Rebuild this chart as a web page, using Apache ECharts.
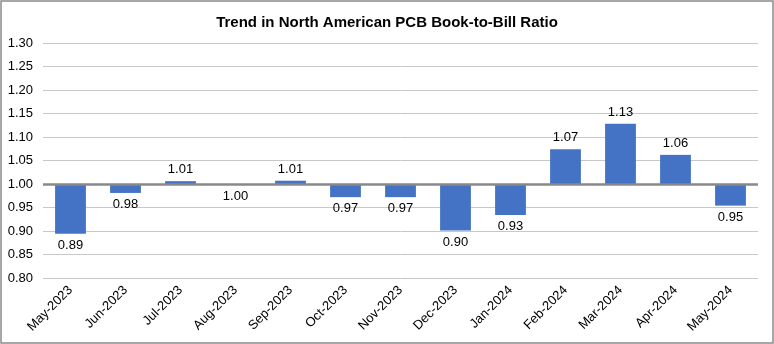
<!DOCTYPE html>
<html>
<head>
<meta charset="utf-8">
<script src="https://cdn.jsdelivr.net/npm/echarts@6/dist/echarts.min.js"></script>
<style>
html,body{margin:0;padding:0;background:#fff;}
#chart{width:774px;height:344px;}
</style>
</head>
<body>
<div id="chart"></div>
<script>
var categories = ['May-2023','Jun-2023','Jul-2023','Aug-2023','Sep-2023','Oct-2023','Nov-2023','Dec-2023','Jan-2024','Feb-2024','Mar-2024','Apr-2024','May-2024'];
var ratios = [0.894, 0.981, 1.006, 0.998, 1.007, 0.972, 0.972, 0.901, 0.934, 1.074, 1.128, 1.062, 0.954];
var baseline = 1.0;
var yMin = 0.80, yMax = 1.30, yStep = 0.05;

var chart = echarts.init(document.getElementById('chart'));
var seriesData = ratios.map(function (v) {
  return {
    value: v - baseline,
    label: { position: v >= baseline ? 'top' : 'bottom' }
  };
});
chart.setOption({
  animation: false,
  title: {
    text: 'Trend in North American PCB Book-to-Bill Ratio',
    left: 'center', top: 10,
    textStyle: { fontFamily: 'Liberation Sans', fontSize: 15, fontWeight: 'bold', color: '#000' }
  },
  graphic: [{
    type: 'rect', silent: true, z: 100,
    shape: { x: 1, y: 1, width: 772, height: 342 },
    style: { fill: null, stroke: '#8a8a8a', lineWidth: 1.5 }
  }],
  grid: { left: 43, right: 16, top: 43, bottom: 66 },
  xAxis: {
    type: 'category',
    data: categories,
    position: 'bottom',
    axisLine: { show: false, onZero: false },
    axisTick: { show: false },
    axisLabel: {
      rotate: 45, interval: 0, margin: 10,
      fontFamily: 'Liberation Sans', fontSize: 13, color: '#000'
    }
  },
  yAxis: {
    type: 'value',
    min: yMin - baseline, max: yMax - baseline, interval: yStep,
    axisLine: { show: false },
    axisTick: { show: false },
    splitLine: { lineStyle: { color: '#c8c8c8', width: 1 } },
    axisLabel: {
      margin: 10,
      fontFamily: 'Liberation Sans', fontSize: 13, color: '#000',
      formatter: function (v) { return (v + baseline).toFixed(2); }
    }
  },
  series: [{
    type: 'bar',
    data: seriesData,
    barWidth: '56%',
    itemStyle: { color: '#4472C4' },
    label: {
      show: true, distance: 5,
      fontFamily: 'Liberation Sans', fontSize: 13, color: '#000',
      formatter: function (p) { return (p.value + baseline).toFixed(2); }
    },
    markLine: {
      silent: true, symbol: 'none',
      label: { show: false },
      lineStyle: { color: '#898989', width: 2.5, type: 'solid' },
      data: [{ yAxis: 0 }]
    }
  }]
});
</script>
</body>
</html>
